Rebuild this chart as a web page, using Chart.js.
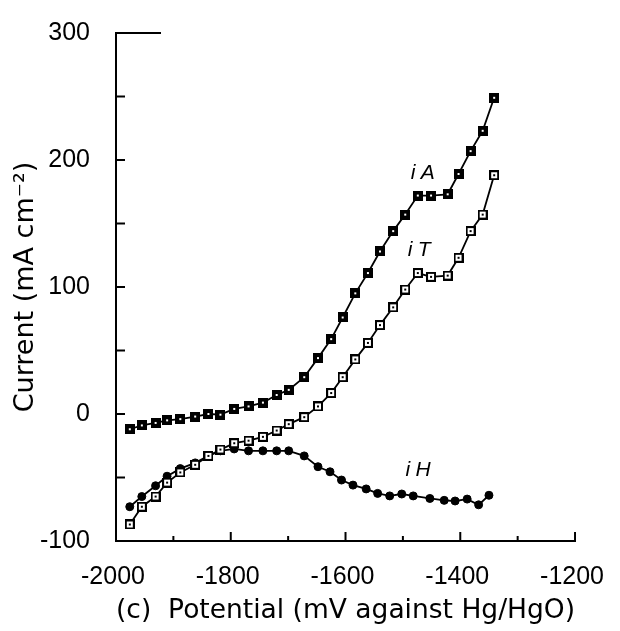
<!DOCTYPE html>
<html><head><meta charset="utf-8">
<script src="https://cdn.jsdelivr.net/npm/chart.js@4.4.1/dist/chart.umd.min.js"></script>
<style>html,body{margin:0;padding:0;background:#fff}#wrap{width:620px;height:631px}</style>
</head><body><div id="wrap"><canvas id="c" width="620" height="631"></canvas></div>
<script>
// Potential (mV against Hg/HgO)
const potentialAT = [-1976,-1955,-1931,-1911,-1888,-1862,-1839,-1818,-1794,-1769,-1744,-1720,-1699,-1672,-1648,-1625,-1605,-1583,-1561,-1540,-1517,-1496,-1474,-1451,-1422,-1403,-1382,-1361,-1341];
const iA = [-12,-9,-7,-5,-4,-2,0,-0.5,4,6,9,15,19,29,44,59,76,95,111,128,144,157,172,172,173,189,207,223,249];
const iT = [-87,-73,-65,-54,-46,-40,-33,-28,-23,-21,-18,-13,-8,-2.5,6,16.5,29,43,56,70,84,98,111,108,109,123,144,157,188];
const potentialH = [-1976,-1955,-1931,-1911,-1888,-1862,-1839,-1818,-1794,-1769,-1744,-1720,-1699,-1672,-1648,-1627,-1607,-1587,-1564,-1544,-1523,-1502,-1482,-1453,-1428,-1409,-1388,-1368,-1350];
const iH = [-73,-65,-56.5,-49,-43,-38.5,-33,-29,-27.5,-29,-29,-29,-29,-33,-41.5,-45.5,-52,-56,-59,-62.5,-64.5,-63,-64.5,-66.5,-68,-68.5,-67,-71.5,-64];
const xTickValues = [-2000,-1800,-1600,-1400,-1200];
const yTickValues = [-100,0,100,200,300];
const curveLabels = ['iA','iT','iH'];
const curveLabelX = [-1462,-1467,-1471];
const curveLabelY = [190,129,-44];

function squareMarker(filled){
  const c=document.createElement('canvas'); c.width=10; c.height=10;
  const g=c.getContext('2d');
  g.fillStyle='#000'; g.fillRect(0,0,10,10);
  if(filled){ g.fillStyle='#fff'; g.fillRect(4,4,2,2); }
  else { g.fillStyle='#fff'; g.fillRect(2,2,6,6); g.fillStyle='#000'; g.fillRect(4,4,2,2); }
  return c;
}
const toXY=(xs,ys)=>xs.map((x,i)=>({x:x,y:ys[i]}));

const tickPlugin={
  id:'inTicks',
  afterDraw(chart){
    const g=chart.ctx, xs=chart.scales.x, ys=chart.scales.y, a=chart.chartArea;
    g.save(); g.strokeStyle='#000'; g.lineWidth=2;
    for(let v=-100; v<=300; v+=50){
      const y=ys.getPixelForValue(v);
      const len = v===300 ? 45 : 9;
      g.beginPath(); g.moveTo(a.left, y); g.lineTo(a.left+len, y); g.stroke();
    }
    for(let v=-1900; v<=-1200; v+=100){
      const x=xs.getPixelForValue(v);
      const len = (v%200===0) ? 9 : 5;
      g.beginPath(); g.moveTo(x, a.bottom); g.lineTo(x, a.bottom-len); g.stroke();
    }
    g.restore();
  }
};
const labelPlugin={
  id:'curveLabels',
  afterDatasetsDraw(chart){
    const g=chart.ctx, xs=chart.scales.x, ys=chart.scales.y;
    g.save(); g.fillStyle='#000'; g.font='italic 21px "Liberation Sans"';
    g.textAlign='left'; g.textBaseline='middle';
    curveLabels.forEach((t,i)=>{
      const x=xs.getPixelForValue(curveLabelX[i])-14, y=ys.getPixelForValue(curveLabelY[i]);
      g.fillText(t[0], x, y);
      g.fillText(t.slice(1), x+10, y);
    });
    g.restore();
  }
};

new Chart(document.getElementById('c'),{
  type:'line',
  data:{datasets:[
    {label:'iA', data:toXY(potentialAT,iA), borderColor:'#000', borderWidth:1.8, pointStyle:squareMarker(true), pointRadius:5, tension:0},
    {label:'iT', data:toXY(potentialAT,iT), borderColor:'#000', borderWidth:1.8, pointStyle:squareMarker(false), pointRadius:5, tension:0},
    {label:'iH', data:toXY(potentialH,iH), borderColor:'#000', borderWidth:1.8, pointStyle:'circle', pointRadius:4, pointBackgroundColor:'#000', pointBorderColor:'#000', pointBorderWidth:1, tension:0}
  ]},
  options:{
    responsive:false, animation:false, events:[],
    layout:{padding:{top:26,right:32,left:0,bottom:0}},
    plugins:{legend:{display:false}, tooltip:{enabled:false}},
    scales:{
      x:{type:'linear', min:-2000, max:-1200,
        afterBuildTicks(s){ s.ticks = xTickValues.map(v=>({value:v})); },
        afterFit(s){ s.height = 90; },
        grid:{display:false}, border:{display:true,color:'#000',width:2},
        ticks:{color:'#000', padding:13, labelOffset:-3, font:{family:'"Liberation Sans"', size:25}, callback:v=>String(v)},
        title:{display:true, text:'(c)  Potential (mV against Hg/HgO)', color:'#000', font:{family:'"DejaVu Sans"', size:27}, padding:{top:0,bottom:4}}
      },
      y:{type:'linear', min:-100, max:300,
        afterBuildTicks(s){ s.ticks = yTickValues.map(v=>({value:v})); },
        afterFit(s){ s.width = 116; },
        grid:{display:false}, border:{display:true,color:'#000',width:2},
        ticks:{color:'#000', padding:18, font:{family:'"Liberation Sans"', size:25}, callback:v=>String(v)},
        title:{display:true, text:'Current (mA cm⁻²)', color:'#000', font:{family:'"DejaVu Sans"', size:27}, padding:{top:10,bottom:0}}
      }
    }
  },
  plugins:[tickPlugin,labelPlugin]
});
</script></body></html>
